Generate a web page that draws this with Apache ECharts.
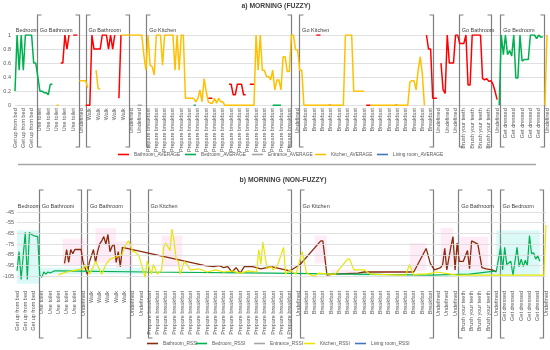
<!DOCTYPE html>
<html><head><meta charset="utf-8">
<script src="https://cdn.jsdelivr.net/npm/echarts@6/dist/echarts.min.js"></script>
<style>html,body{margin:0;padding:0;background:#fff}#c{width:550px;height:350px}</style>
</head><body><div id="c"></div>
<script>
// ---- tick labels (one per shown label; 4 samples per label) ----
const tickLabels = [
 "Get up from bed","Get up from bed","Get up from bed",
 "Use toilet","Use toilet","Use toilet","Use toilet","Use toilet",
 "Undefined",
 "Walk","Walk","Walk","Walk","Walk",
 "Undefined","Undefined",
 "Prepare breakfast","Prepare breakfast","Prepare breakfast","Prepare breakfast","Prepare breakfast","Prepare breakfast",
 "Prepare breakfast","Prepare breakfast","Prepare breakfast","Prepare breakfast","Prepare breakfast","Prepare breakfast",
 "Prepare breakfast","Prepare breakfast","Prepare breakfast","Prepare breakfast","Prepare breakfast","Prepare breakfast",
 "Undefined",
 "Breakfast","Breakfast","Breakfast","Breakfast","Breakfast","Breakfast","Breakfast","Breakfast",
 "Breakfast","Breakfast","Breakfast","Breakfast","Breakfast","Breakfast","Breakfast","Breakfast",
 "Undefined","Undefined","Undefined",
 "Brush your teeth","Brush your teeth","Brush your teeth","Brush your teeth",
 "Undefined",
 "Get dressed","Get dressed","Get dressed","Get dressed","Get dressed",
 "Undefined"
];
const SAMPLES_PER_LABEL = 4;

// ---- a) fuzzy averages: runs of [startSample, values...] ----
const bathroomAvg = [
 [22, 0.6,0.6,1,0.8,1],
 [28, 1,1,1],
 [34, 0,0,0,1,0.8,0.8,0.8,0.8,1,1,1,0.8,1,0.8,1],
 [50, 0.1,1],
 [93, 0.1,0.1,0.1],
 [103, 0.3,0.3,0.15,0.15,0.3,0.3,0.3,0.15,0.15],
 [113, 0.3,0.3,0.3],
 [145, 1,1,1],
 [151, 0,0],
 [169, 0,0,0],
 [183, 0,0],
 [198, 1,0.8,0.8,0.1,0.1,0.1],
 [205, 0.6,0.22,0.17,1,0.6,0.6,0.6,1,1,0.88,0.88,0.88,1,0.29,0.29,1,1,1,1,1,0.38,0.36,0.38,0.34,0.35,0.3,0.2,0.08]
];
const bedroomAvg = [
 [0, 0.2,1,0.5,1,0.5,1,1,1,1,0.6,0.6,0.4,0.2,0.2,0.18,0.18,0.15,0.3,0.3],
 [86, 0,0],
 [124, 0,0,0,0,0],
 [233, 0,1,0.72,1,0.72,0.78,0.7,1,0.39,0.39,1,0.63,0.65,0.65,0.65,1,1,1,0.95,1,0.97,0.97]
];
const entranceAvg = [
 [59, 0,0,0]
];
const kitchenAvg = [
 [20, 0,0],
 [31, 0.35,0.35,0.35,0.35,0.25],
 [39, 0.5,0.24,0.23],
 [51, 1,1,1,1,1,1,1,1,1,1,1,0.72,0.5,1,0.57,0.55,0.43,1,1,1,0.57,1,1,1,1,1,0.5,1,0.5,1,1,
      0.1,0.1,0.1,0.1,0.1,0.05,0.1,0.22,0.05,0.38,0.2,0.05,0.03,0.03,0.1,0.03,0.1,0.05,0.05,
      0,0,0,0,0,0,0,0,0,0,0,0,0,0,0,
      1,0.5,1,0.5,0.5,0.41,0.41,0.36,0.5,0.22,0.36,0.36,0.22,0.69,0.69,0.48,0.48,1,1,0.79,0.79,0.5,0.5,
      0,0,0,0,0,0,0,0,0,0,0,0,0,0,0,0,0,0,0,0,
      1,1,1,1,0.2,0.2,0.2,0.2,0.2,0.2],
 [171, 0,0,0,0,0,0,0,0,0,0,0,0,0,0,0,0,0,0,0,0.33,0.35,0.35,0.22,0.5,0.69,0.45,0],
 [255, 0,1]
];
const livingAvg = [];

// ---- b) non-fuzzy RSSI: [sample, dBm] ----
const bathroomRssi = [
 [23,-93],[24,-80],[25,-92],[26,-80],[27,-84],[28,-80],[31,-80],[32,-92],[34,-103],[35,-92],[37,-80],[38,-92],
 [39,-82],[40,-75],[41,-72],[42,-68],[43,-75],[44,-66],[45,-82],[46,-77],[47,-75],[48,-92],[49,-82],[50,-96],[51,-78],
 [91,-95],[95,-96],[98,-95],[100,-97],[102,-96],[104,-101],[106,-97],[108,-102],[110,-96],[114,-96],[118,-98],
 [123,-96],[132,-100],[137,-94],[147,-72],[148,-72],[150,-104],[153,-103],[165,-102],[168,-101],[171,-101],
 [192,-101],[198,-79],[200,-93],[202,-99],[205,-97],[206,-94],[207,-79],[208,-99],[210,-77],[211,-68],
 [212,-99],[213,-74],[214,-91],[216,-91],[218,-81],[219,-98],[220,-72],[223,-75],[225,-97],[227,-98],[230,-99],[232,-101]
];
const bedroomRssi = [
 [0,-100],[1,-82],[2,-108],[4,-64],[5,-108],[6,-64],[7,-66],[8,-67],[10,-68],[11,-104],[12,-106],[13,-101],[14,-103],
 [15,-101],[16,-102],[18,-100],[20,-100],[63,-101],[123,-102],[200,-104],[219,-103],[232,-100],
 [234,-78],[235,-99],[236,-78],[237,-94],[239,-91],[240,-104],[242,-78],[243,-96],[244,-89],[245,-96],
 [246,-90],[247,-95],[248,-67],[249,-84],[250,-83],[251,-89],[252,-86],[253,-91]
];
const entranceRssi = [];
const kitchenRssi = [
 [20,-104],[21,-103],[24,-101],[29,-99],[32,-98],[33,-94],[35,-103],[37,-96],[38,-91],[41,-103],[43,-94],
 [45,-89],[48,-87],[51,-84],[52,-77],[54,-72],[56,-82],[57,-82],[59,-86],[61,-99],[62,-106],[63,-91],[65,-103],
 [66,-94],[68,-103],[70,-99],[71,-78],[72,-74],[74,-81],[75,-61],[76,-72],[77,-89],[78,-91],[79,-103],[81,-91],
 [84,-99],[88,-98],[92,-101],[96,-99],[100,-101],[104,-100],[108,-102],[112,-100],[116,-101],[117,-80],[118,-94],
 [119,-73],[121,-98],[123,-96],[124,-99],[126,-95],[129,-78],[130,-103],[132,-99],[135,-103],[138,-82],
 [140,-101],[141,-103],[144,-105],[146,-102],[151,-103],[154,-103],[160,-89],[161,-89],[163,-99],[168,-99],
 [171,-103],[186,-104],[188,-104],[190,-94],[192,-104],[194,-103],[198,-103],[203,-101],[213,-104],[255,-104],[256,-57]
];
const livingRssi = [];

const pinkZones = [[22,33,-70,-95],[38,48,-60,-93],[48,56,-72,-97],[70,80,-67,-96],[144,150,-67,-93],
 [152,165,-99,-104],[190,198,-74,-100],[205,211,-60,-97],[214,228,-68,-99]];
const cyanZones = [[0,11,-62,-112],[11,63,-97,-103],[163,176,-101,-105],[213,232,-99,-104],[232,253,-62,-104]];
const rssiGrid = [-105,-95,-85,-75,-65,-55,-45];

// ---- annotations: positions in label units ----
const bracketMarks = [[2.65,1],[7.7,-1],[8.5,1],[13.7,-1],[15.8,1],[33.2,-1],[34.2,1],[50.3,-1],[53.4,1],[57.3,-1],[58.4,1],[63.6,-1]];
const regionTexts = [["Bedroom",-0.15],["Go Bathroom",2.75],["Go Bathroom",8.6],["Go Kitchen",15.9],["Go Kitchen",34.3],["Go Bathroom",53.5],["Go Bedroom",58.5]];

const N = (tickLabels.length - 1) * SAMPLES_PER_LABEL + 1;
const cats = Array.from({length: N}, (_, i) => String(i));
function expandRuns(runs) {
  const a = new Array(N).fill(null);
  runs.forEach(r => { for (let k = 1; k < r.length; k++) a[r[0] + k - 1] = r[k]; });
  return a;
}
const FONT = 'Liberation Sans';
const LBL = '#595959';

function xAxisCfg(gridIndex, margin) {
  return {
    type: 'category', gridIndex, data: cats, boundaryGap: false,
    axisLine: {show: false}, axisTick: {show: false}, splitLine: {show: false},
    axisLabel: {
      interval: SAMPLES_PER_LABEL - 1, rotate: 90, fontSize: 5.5, color: LBL, fontFamily: FONT, margin,
      formatter: (v, i) => (i % SAMPLES_PER_LABEL === 0 ? tickLabels[i / SAMPLES_PER_LABEL] : '')
    }
  };
}
function topLine(name, runs, color) {
  return {name, type: 'line', xAxisIndex: 0, yAxisIndex: 0, data: expandRuns(runs), symbol: 'none',
    connectNulls: false, color, lineStyle: {color, width: 1.5}, animation: false};
}
function botLine(name, pts, color, width) {
  return {name, type: 'line', xAxisIndex: 1, yAxisIndex: 1, data: pts, symbol: 'none',
    color, itemStyle: {color}, lineStyle: {color, width: width || 1.2}, animation: false};
}
const legendText = {fontSize: 4.8, color: LBL, fontFamily: FONT};
function leg(name, left, top) {
  return {data: [name], left, top, icon: 'rect', itemWidth: 11, itemHeight: 1.6, itemGap: 2, padding: 0,
    textStyle: legendText, selectedMode: false};
}

const series = [
  topLine('Bathroom_AVERAGE', bathroomAvg, '#ff0000'),
  topLine('Bedroom_AVERAGE', bedroomAvg, '#00b050'),
  topLine('Entrance_AVERAGE', entranceAvg, '#a5a5a5'),
  topLine('Kitchen_AVERAGE', kitchenAvg, '#ffc000'),
  topLine('Living room_AVERAGE', livingAvg, '#4472c4'),
  botLine('Bathroom_RSSI', bathroomRssi, '#8b2a0c', 1.3),
  botLine('Bedroom_RSSI', bedroomRssi, '#00b050', 1.2),
  botLine('Entrance_RSSI', entranceRssi, '#a5a5a5'),
  botLine('Kitchen_RSSI', kitchenRssi, '#e6e600', 1.2),
  botLine('Living room_RSSI', livingRssi, '#4472c4')
];
series[7].markArea = {silent: true, data:
  pinkZones.map(z => [{xAxis: z[0], yAxis: z[2], itemStyle: {color: 'rgba(255,120,190,0.14)'}}, {xAxis: z[1], yAxis: z[3]}])
  .concat(cyanZones.map(z => [{xAxis: z[0], yAxis: z[2], itemStyle: {color: 'rgba(0,220,200,0.14)'}}, {xAxis: z[1], yAxis: z[3]}]))};
series[9].markLine = {silent: true, symbol: 'none', label: {show: false},
  lineStyle: {color: '#d9d9d9', width: 0.8, type: 'solid'}, data: rssiGrid.map(v => ({yAxis: v}))};

const option = {
  backgroundColor: '#fff',
  animation: false,
  grid: [
    {left: 15, right: 3, top: 35, bottom: 244.7},
    {left: 16, right: 4, top: 212, bottom: 63}
  ],
  xAxis: [xAxisCfg(0, 3), xAxisCfg(1, 4)],
  yAxis: [
    {type: 'value', gridIndex: 0, min: 0, max: 1, interval: 0.2,
     axisLine: {show: false}, axisTick: {show: false},
     axisLabel: {fontSize: 5.5, color: LBL, fontFamily: FONT, margin: 4},
     splitLine: {lineStyle: {color: '#d9d9d9', width: 0.8}}},
    {type: 'value', gridIndex: 1, min: -115, max: -45, interval: 5,
     axisLine: {show: false}, axisTick: {show: false}, splitLine: {show: false},
     axisLabel: {fontSize: 5.5, color: LBL, fontFamily: FONT, margin: 3,
       formatter: v => (v >= -105 && (v + 105) % 10 === 0 ? String(v) : '')}}
  ],
  legend: [
    leg('Bathroom_AVERAGE', 118, 152), leg('Bedroom_AVERAGE', 185, 152), leg('Entrance_AVERAGE', 252, 152),
    leg('Kitchen_AVERAGE', 315, 152), leg('Living room_AVERAGE', 377, 152),
    leg('Bathroom_RSSI', 147, 341), leg('Bedroom_RSSI', 196, 341), leg('Entrance_RSSI', 254, 341),
    leg('Kitchen_RSSI', 304, 341), leg('Living room_RSSI', 355, 341)
  ],
  visualMap: [
    {type: 'piecewise', show: false, dimension: 0, seriesIndex: 5,
     pieces: [{gte: 22, lte: 31, color: '#ff0000'}, {gte: 40, lte: 46, color: '#e81010'}, {gte: 212, lte: 219, color: '#e81010'}],
     outOfRange: {color: '#8b2a0c'}},
    {type: 'piecewise', show: false, dimension: 0, seriesIndex: 6,
     pieces: [{gte: 0, lte: 10, color: '#1fa64a'}, {gte: 233, lte: 256, color: '#2e9a48'}],
     outOfRange: {color: '#3d6e3d'}}
  ],
  series
};

const chart = echarts.init(document.getElementById('c'), null, {renderer: 'canvas'});
chart.setOption(option);

// annotations anchored on the category axes
function labelX(gridIndex, L) {
  const a = chart.convertToPixel({gridIndex}, [0, gridIndex ? -80 : 0.5])[0];
  const b = chart.convertToPixel({gridIndex}, [N - 1, gridIndex ? -80 : 0.5])[0];
  return a + (b - a) * (L * SAMPLES_PER_LABEL) / (N - 1);
}
const graphics = [];
const spans = [{g: 0, top: 15, bottom: 147, textY: 30}, {g: 1, top: 190, bottom: 338, textY: 206}];
spans.forEach(s => {
  bracketMarks.forEach(([L, dir]) => {
    const x = Math.round(labelX(s.g, L)) + 0.5;
    graphics.push({type: 'polyline', silent: true,
      shape: {points: [[x + 4 * dir, s.top], [x, s.top], [x, s.bottom], [x + 4 * dir, s.bottom]]},
      style: {stroke: '#7f7f7f', lineWidth: 1.2, fill: null}});
  });
  regionTexts.forEach(([t, L]) => {
    graphics.push({type: 'text', silent: true, x: labelX(s.g, L) + 2, y: s.textY,
      style: {text: t, fontSize: 5.5, fill: '#404040', fontFamily: FONT, textVerticalAlign: 'middle'}});
  });
});
graphics.push({type: 'text', silent: true, x: 276, y: 6,
  style: {text: 'a) MORNING (FUZZY)', fontSize: 6.8, fontWeight: 'bold', fill: '#404040', fontFamily: FONT, textAlign: 'center', textVerticalAlign: 'middle'}});
graphics.push({type: 'text', silent: true, x: 283, y: 180,
  style: {text: 'b) MORNING (NON-FUZZY)', fontSize: 6.8, fontWeight: 'bold', fill: '#404040', fontFamily: FONT, textAlign: 'center', textVerticalAlign: 'middle'}});
graphics.push({type: 'line', silent: true, shape: {x1: 18, y1: 164.5, x2: 536, y2: 164.5},
  style: {stroke: '#a6a6a6', lineWidth: 1.5}});
chart.setOption({graphic: graphics});
</script></body></html>
